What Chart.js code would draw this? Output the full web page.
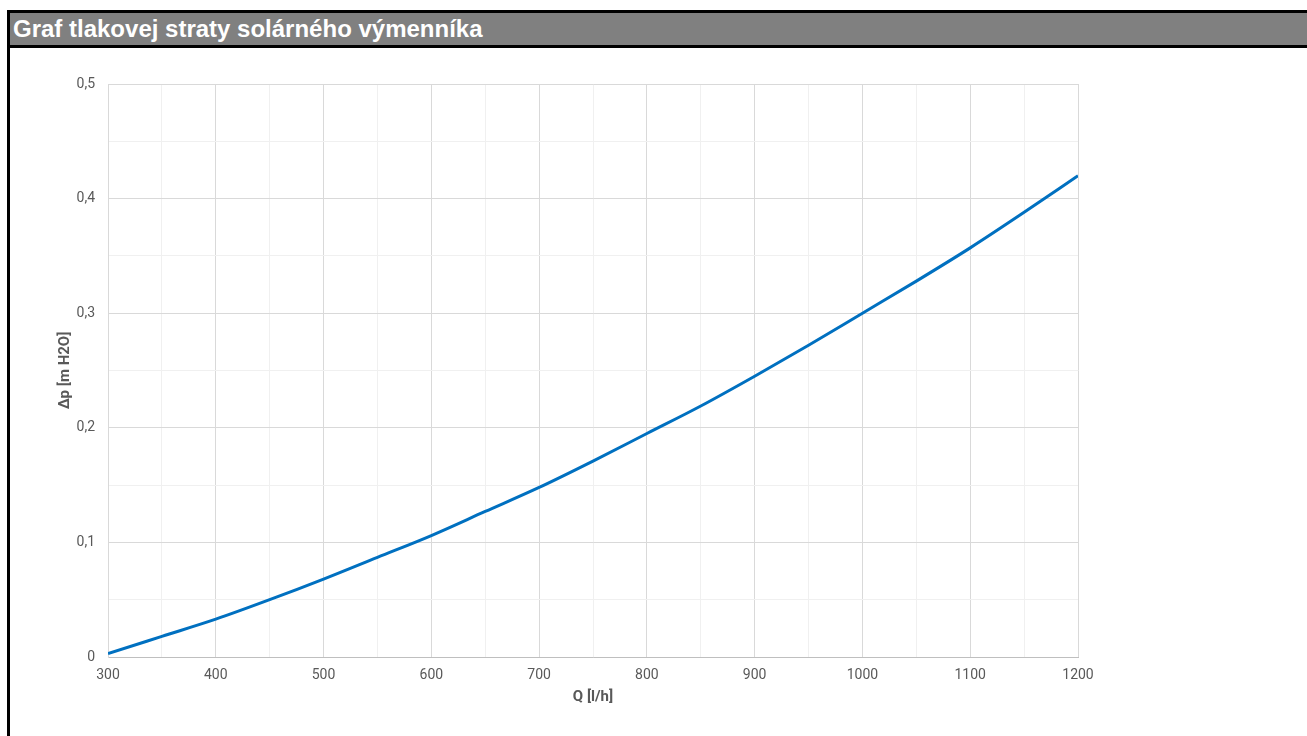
<!DOCTYPE html>
<html>
<head>
<meta charset="utf-8">
<script src="https://cdn.jsdelivr.net/npm/chart.js@4"></script>
<style>
	body { margin: 0; background: #fff; overflow: hidden; }
	.frame { position: absolute; left: 7px; top: 10px; width: 1400px; height: 800px; border-left: 3px solid #000; }
	.head { height: 32px; background: #808080; border-top: 3px solid #000; border-bottom: 3px solid #000; margin-left: -3px; border-left: 3px solid #000;
		color: #fff; font: bold 24px "Liberation Sans", Arial, sans-serif; line-height: 32px; padding-left: 3px; }
	#wrap { position: absolute; left: 10px; top: 47px; width: 1297px; height: 689px; }
</style>
</head>
<body>
<div class="frame"><div class="head">Graf tlakovej straty solárného výmenníka</div></div>
<div id="wrap"><canvas id="chart"></canvas></div>
<script>
// flow Q [l/h] and pressure loss [m H2O]
const flow = [300, 350, 400, 450, 500, 550, 600, 650, 700, 750, 800, 850, 900, 950, 1000, 1050, 1100, 1150, 1200]
const loss = [0.003, 0.018, 0.033, 0.050, 0.068, 0.087, 0.106, 0.127, 0.148, 0.171, 0.195, 0.219, 0.245, 0.272, 0.300, 0.328, 0.357, 0.388, 0.420]

const xTitle = 'Q [l/h]'
const yTitle = 'Δp [m H2O]'

const tickFont = { family: 'Roboto', size: 14 }
const titleFont = { family: 'Roboto', size: 15, weight: 'bold' }

function isMajor(v, step) {
	return Math.abs(v / step - Math.round(v / step)) < 1e-6
}

new Chart(document.getElementById('chart'), {
	type: 'line',
	data: {
		datasets: [{
			data: flow.map((q, i) => ({ x: q, y: loss[i] })),
			borderColor: '#0070c0',
			borderWidth: 3,
			pointRadius: 0,
			cubicInterpolationMode: 'monotone',
			fill: false
		}]
	},
	options: {
		responsive: true,
		maintainAspectRatio: false,
		animation: false,
		layout: { padding: { left: 42, top: 37, right: 229, bottom: 26 } },
		plugins: { legend: { display: false }, tooltip: { enabled: false } },
		scales: {
			x: {
				type: 'linear',
				min: 300,
				max: 1200,
				afterFit: (s) => { s.height = 53 },
				ticks: {
					stepSize: 50,
					autoSkip: false,
					maxRotation: 0,
					padding: 10,
					color: '#595959',
					font: tickFont,
					callback: (v) => isMajor(v, 100) ? v : ''
				},
				grid: {
					drawTicks: false,
					color: (c) => isMajor(c.tick.value, 100) ? '#d9d9d9' : '#f0f0f0'
				},
				border: { color: '#bfbfbf' },
				title: { display: true, text: xTitle, color: '#595959', font: titleFont }
			},
			y: {
				min: 0,
				max: 0.5,
				afterFit: (s) => { s.width = 56 },
				ticks: {
					stepSize: 0.05,
					autoSkip: false,
					padding: 13,
					color: '#595959',
					font: tickFont,
					callback: (v) => isMajor(v, 0.1) ? String(Math.round(v * 10) / 10).replace('.', ',') : ''
				},
				grid: {
					drawTicks: false,
					color: (c) => isMajor(c.tick.value, 0.1) ? '#d9d9d9' : '#f0f0f0'
				},
				border: { color: '#d9d9d9' },
				title: { display: true, text: yTitle, color: '#595959', font: titleFont }
			}
		}
	}
})
</script>
</body>
</html>
